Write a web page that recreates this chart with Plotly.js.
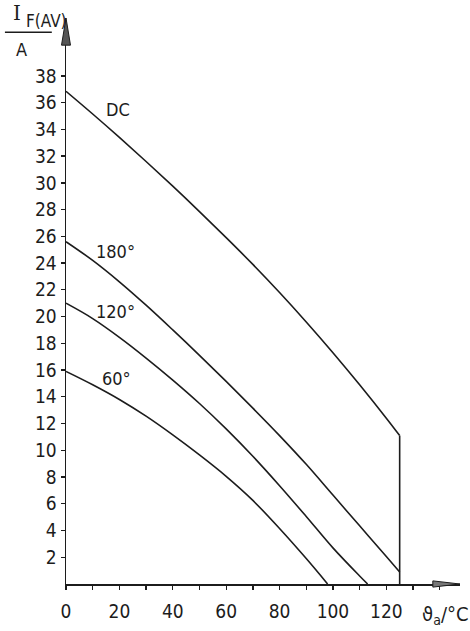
<!DOCTYPE html>
<html>
<head>
<meta charset="utf-8">
<script src="https://cdn.plot.ly/plotly-3.0.1.min.js"></script>
<style>
html,body{margin:0;padding:0;background:#fff;}
#chart{width:470px;height:631px;}
</style>
</head>
<body>
<div id="chart"></div>
<script>
// Ambient temperature (°C) and average forward current (A) per conduction angle
const xDC    = [0, 10, 20, 30, 40, 50, 60, 70, 80, 90, 100, 110, 120, 125];
const yDC    = [36.85, 35.15, 33.4, 31.6, 29.75, 27.85, 25.9, 23.9, 21.8, 19.6, 17.3, 14.9, 12.4, 11.1];
const x180   = [0, 10, 20, 30, 40, 50, 60, 70, 80, 90, 100, 110, 120, 125];
const y180   = [25.6, 24.2, 22.6, 20.85, 19.0, 17.1, 15.15, 13.15, 11.1, 8.95, 6.65, 4.35, 2.05, 0.9];
const x120   = [0, 10, 20, 30, 40, 50, 60, 70, 80, 90, 100, 110, 113];
const y120   = [21.0, 19.85, 18.45, 16.9, 15.25, 13.5, 11.6, 9.55, 7.35, 5.05, 2.7, 0.6, 0];
const x60    = [0, 10, 20, 30, 40, 50, 60, 70, 80, 90, 98];
const y60    = [15.9, 14.9, 13.8, 12.55, 11.15, 9.65, 8.05, 6.25, 4.15, 1.9, 0];

const curveLabels = ["DC", "180°", "120°", "60°"];
const labelX = [19.5, 18.7, 18.7, 19.0];
const labelY = [35.5, 24.9, 20.4, 15.4];

const yTickVals = [2,4,6,8,10,12,14,16,18,20,22,24,26,28,30,32,34,36,38];
const xTickVals = [0,20,40,60,80,100,120];

const ink = "#1c1c1c";
const font = "DejaVu Sans Condensed, DejaVu Sans, sans-serif";

function curve(x, y, shape) {
  return {x: x, y: y, type: "scatter", mode: "lines",
          line: {color: ink, width: 1.6, shape: shape, smoothing: 1},
          hoverinfo: "skip", showlegend: false};
}

const last = xDC.length - 1;
const data = [
  curve(xDC, yDC, "spline"),
  curve([xDC[last], xDC[last]], [yDC[last], 0], "linear"),
  curve(x180, y180, "spline"),
  curve(x120, y120, "spline"),
  curve(x60, y60, "spline")
];

const annotations = curveLabels.map((t, i) => ({
  x: labelX[i], y: labelY[i], xref: "x", yref: "y", text: t, showarrow: false,
  xanchor: "center", yanchor: "middle",
  font: {family: font, size: 18, color: ink}
}));

// axis titles
annotations.push({xref: "paper", yref: "paper", x: -0.1117, y: 1.009, text: "I",
  xanchor: "right", yanchor: "middle", showarrow: false, borderpad: 0,
  font: {family: "DejaVu Serif, serif", size: 20, color: ink}});
annotations.push({xref: "paper", yref: "paper", x: -0.104, y: 0.994, text: "F(AV)",
  xanchor: "left", yanchor: "middle", showarrow: false, borderpad: 0,
  font: {family: font, size: 17, color: ink}});
annotations.push({xref: "paper", yref: "paper", x: -0.114, y: 0.945, text: "A",
  xanchor: "center", yanchor: "middle", showarrow: false,
  font: {family: font, size: 18, color: ink}});
annotations.push({xref: "paper", yref: "paper", x: 0.964, y: -0.055, text: "ϑ<sub>a</sub>/°C",
  xanchor: "center", yanchor: "middle", showarrow: false,
  font: {family: font, size: 20, color: ink}});

const shapes = [
  // fraction bar of y-axis title
  {type: "line", xref: "paper", yref: "paper", x0: -0.155, x1: -0.036, y0: 0.975, y1: 0.975,
   line: {color: ink, width: 1.5}},
  // y-axis arrow head
  {type: "path", xref: "paper", yref: "paper",
   path: "M 0 1 L 0.0114 0.952 L -0.0114 0.952 Z",
   fillcolor: "#555", line: {color: ink, width: 1}},
  // x-axis arrow head
  {type: "path", xref: "paper", yref: "paper",
   path: "M 1 0 L 0.931 0.0055 L 0.931 -0.0055 Z",
   fillcolor: "#777", line: {color: ink, width: 1}}
];

const layout = {
  width: 470, height: 631,
  margin: {l: 66, r: 10, t: 18, b: 47},
  paper_bgcolor: "#ffffff", plot_bgcolor: "#ffffff",
  showlegend: false,
  xaxis: {
    range: [0, 147.6], showgrid: false, zeroline: false,
    showline: true, linecolor: ink, linewidth: 1.5,
    ticks: "outside", ticklen: 4, tickcolor: ink, tickwidth: 1.3,
    tickmode: "array", tickvals: xTickVals,
    minor: {tick0: 0, dtick: 10, ticks: "outside", ticklen: 4, tickcolor: ink, tickwidth: 1.3, showgrid: false},
    ticklabelstandoff: 6,
    tickfont: {family: font, size: 19, color: ink}
  },
  yaxis: {
    range: [0, 42.33], showgrid: false, zeroline: false,
    showline: true, linecolor: ink, linewidth: 1.5,
    ticks: "outside", ticklen: 4, tickcolor: ink, tickwidth: 1.3,
    tickmode: "array", tickvals: yTickVals,
    tickfont: {family: font, size: 19, color: ink}
  },
  annotations: annotations,
  shapes: shapes
};

Plotly.newPlot("chart", data, layout, {staticPlot: true, displayModeBar: false});
</script>
</body>
</html>
